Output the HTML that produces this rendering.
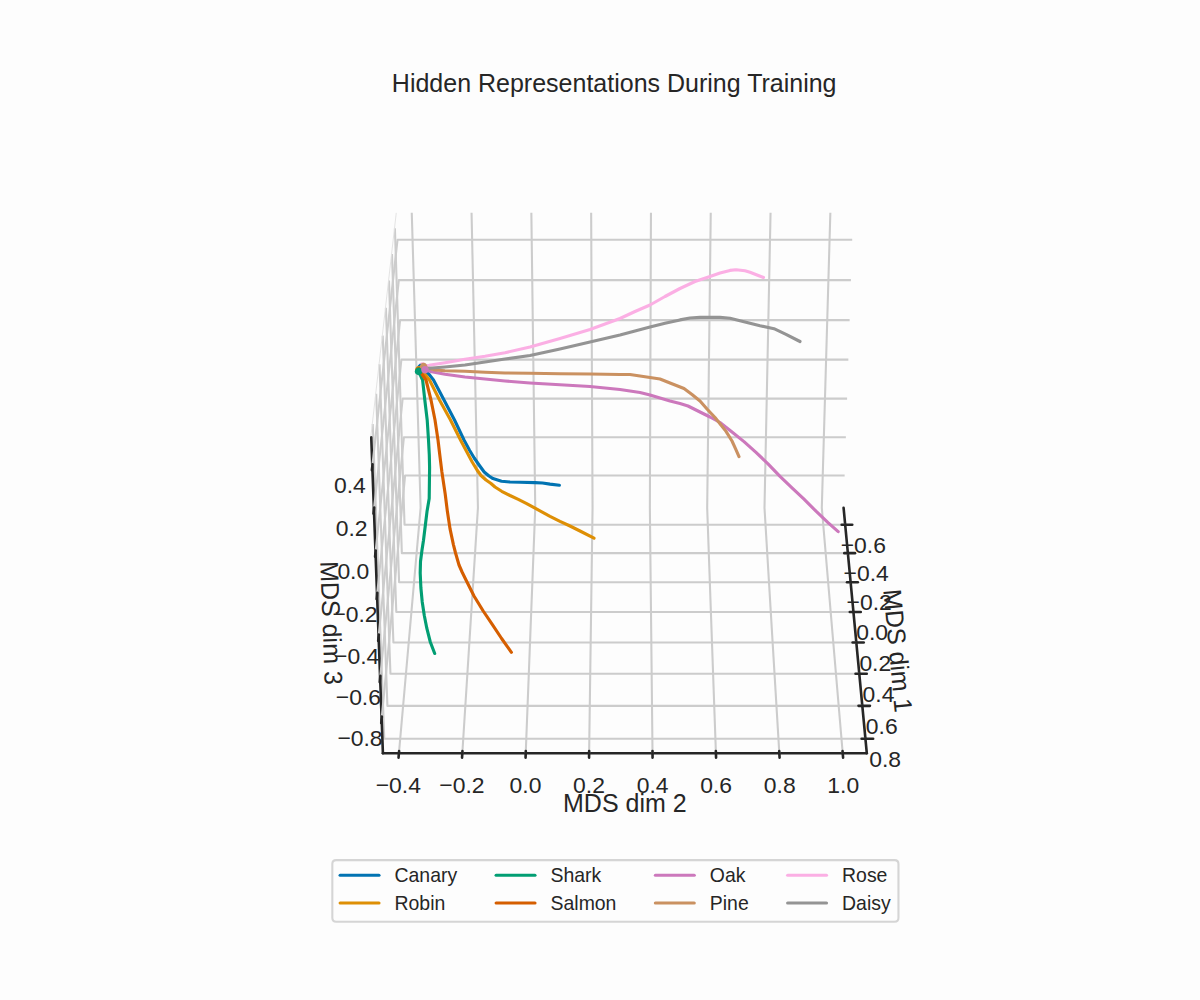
<!DOCTYPE html>
<html><head><meta charset="utf-8"><title>Hidden Representations During Training</title>
<style>html,body{margin:0;padding:0;overflow:hidden;width:1200px;height:1000px;background:#fdfdfd;font-family:"Liberation Sans",sans-serif;}svg{display:block}</style>
</head><body>
<svg width="1200" height="1000" viewBox="0 0 864 720" version="1.1">
 <defs>
  <style type="text/css">*{stroke-linejoin: round; stroke-linecap: butt}</style>
 </defs>
 <g id="figure_1">
  <g id="patch_1">
   <path d="M 0 720 L 864 720 L 864 0 L 0 0 z
" style="fill: #fdfdfd"/>
  </g>
  <g id="patch_2">
   <path d="M 180 612 L 705.6 612 L 705.6 86.4 L 180 86.4 z
" style="fill: #fdfdfd"/>
  </g>
  <g id="pane3d_1">
   <g id="patch_3">
    <path d="M 292.423789 365.643395 L 607.381617 365.643395 L 614.212281 153.220307 L 285.593125 153.220307 " style="fill: none; opacity: 0"/>
   </g>
  </g>
  <g id="pane3d_2">
   <g id="patch_4">
    <path d="M 292.423789 365.643395 L 275.699164 542.347584 L 267.30191 314.795 L 285.593125 153.220307 " style="fill: none; opacity: 0"/>
   </g>
  </g>
  <g id="pane3d_3">
   <g id="patch_5">
    <path d="M 292.423789 365.643395 L 275.699164 542.347584 L 624.106241 542.347584 L 607.381617 365.643395 " style="fill: none; opacity: 0"/>
   </g>
  </g>
  
  
  
  <g id="axis3d_1">
   <g id="line2d_1">
    <path d="M 607.381617 365.643395 L 624.106241 542.347584 " style="fill: none; stroke: #262626; stroke-width: 1.875; stroke-linecap: round"/>
   </g>
<g id="grid3d_1">
   <g id="Line3DCollection_1">
    <path d="M 608.538737 377.868958 L 291.266669 377.868958 L 284.333046 164.351163 " style="fill: none; stroke: #cccccc; stroke-width: 1.5"/>
    <path d="M 610.469687 398.270429 L 289.335719 398.270429 L 282.228492 182.941649 " style="fill: none; stroke: #cccccc; stroke-width: 1.5"/>
    <path d="M 612.448224 419.174682 L 287.357182 419.174682 L 280.069748 202.010827 " style="fill: none; stroke: #cccccc; stroke-width: 1.5"/>
    <path d="M 614.476129 440.600534 L 285.329277 440.600534 L 277.854693 221.577426 " style="fill: none; stroke: #cccccc; stroke-width: 1.5"/>
    <path d="M 616.555273 462.567755 L 283.250132 462.567755 L 275.581094 241.661167 " style="fill: none; stroke: #cccccc; stroke-width: 1.5"/>
    <path d="M 618.687624 485.097126 L 281.117782 485.097126 L 273.2466 262.282826 " style="fill: none; stroke: #cccccc; stroke-width: 1.5"/>
    <path d="M 620.875249 508.210503 L 278.930156 508.210503 L 270.848731 283.464308 " style="fill: none; stroke: #cccccc; stroke-width: 1.5"/>
    <path d="M 623.120327 531.930895 L 276.685078 531.930895 L 268.38487 305.228723 " style="fill: none; stroke: #cccccc; stroke-width: 1.5"/>
   </g>
  </g>
   <g id="xtick_1">
    <g id="line2d_2">
     <path d="M 449.902703 342.097297 " clip-path="url(#pe4613dec09)" style="fill: none; stroke: #cccccc; stroke-width: 1.5; stroke-linecap: round"/>
    </g>
    <g id="line2d_3">
     <path d="M 606.00056 377.868958 L 613.61509 377.868958 " style="fill: none; stroke: #262626; stroke-width: 1.875; stroke-linecap: round"/>
    </g>
    <g id="text_1">
     <text style="font-size: 16.5px; font-family: 'Liberation Sans', sans-serif; text-anchor: middle; fill: #262626" x="621.565067" y="397.9013">−0.6</text>
    </g>
   </g>
   <g id="xtick_2">
    <g id="line2d_4">
     <path d="M 449.902703 342.097297 " clip-path="url(#pe4613dec09)" style="fill: none; stroke: #cccccc; stroke-width: 1.5; stroke-linecap: round"/>
    </g>
    <g id="line2d_5">
     <path d="M 607.900615 398.270429 L 615.60783 398.270429 " style="fill: none; stroke: #262626; stroke-width: 1.875; stroke-linecap: round"/>
    </g>
    <g id="text_2">
     <text style="font-size: 16.5px; font-family: 'Liberation Sans', sans-serif; text-anchor: middle; fill: #262626" x="623.650862" y="418.3707">−0.4</text>
    </g>
   </g>
   <g id="xtick_3">
    <g id="line2d_6">
     <path d="M 449.902703 342.097297 " clip-path="url(#pe4613dec09)" style="fill: none; stroke: #cccccc; stroke-width: 1.5; stroke-linecap: round"/>
    </g>
    <g id="line2d_7">
     <path d="M 609.847495 419.174682 L 617.64968 419.174682 " style="fill: none; stroke: #262626; stroke-width: 1.875; stroke-linecap: round"/>
    </g>
    <g id="text_3">
     <text style="font-size: 16.5px; font-family: 'Liberation Sans', sans-serif; text-anchor: middle; fill: #262626" x="625.787968" y="439.3437">−0.2</text>
    </g>
   </g>
   <g id="xtick_4">
    <g id="line2d_8">
     <path d="M 449.902703 342.097297 " clip-path="url(#pe4613dec09)" style="fill: none; stroke: #cccccc; stroke-width: 1.5; stroke-linecap: round"/>
    </g>
    <g id="line2d_9">
     <path d="M 611.842954 440.600534 L 619.742479 440.600534 " style="fill: none; stroke: #262626; stroke-width: 1.875; stroke-linecap: round"/>
    </g>
    <g id="text_4">
     <text style="font-size: 16.5px; font-family: 'Liberation Sans', sans-serif; text-anchor: middle; fill: #262626" x="627.978301" y="460.8391">0.0</text>
    </g>
   </g>
   <g id="xtick_5">
    <g id="line2d_10">
     <path d="M 449.902703 342.097297 " clip-path="url(#pe4613dec09)" style="fill: none; stroke: #cccccc; stroke-width: 1.5; stroke-linecap: round"/>
    </g>
    <g id="line2d_11">
     <path d="M 613.888832 462.567755 L 621.888156 462.567755 " style="fill: none; stroke: #262626; stroke-width: 1.875; stroke-linecap: round"/>
    </g>
    <g id="text_5">
     <text style="font-size: 16.5px; font-family: 'Liberation Sans', sans-serif; text-anchor: middle; fill: #262626" x="630.223875" y="482.8766">0.2</text>
    </g>
   </g>
   <g id="xtick_6">
    <g id="line2d_12">
     <path d="M 449.902703 342.097297 " clip-path="url(#pe4613dec09)" style="fill: none; stroke: #cccccc; stroke-width: 1.5; stroke-linecap: round"/>
    </g>
    <g id="line2d_13">
     <path d="M 615.987065 485.097126 L 624.088741 485.097126 " style="fill: none; stroke: #262626; stroke-width: 1.875; stroke-linecap: round"/>
    </g>
    <g id="text_6">
     <text style="font-size: 16.5px; font-family: 'Liberation Sans', sans-serif; text-anchor: middle; fill: #262626" x="632.526808" y="505.4769">0.4</text>
    </g>
   </g>
   <g id="xtick_7">
    <g id="line2d_14">
     <path d="M 449.902703 342.097297 " clip-path="url(#pe4613dec09)" style="fill: none; stroke: #cccccc; stroke-width: 1.5; stroke-linecap: round"/>
    </g>
    <g id="line2d_15">
     <path d="M 618.139688 508.210503 L 626.346371 508.210503 " style="fill: none; stroke: #262626; stroke-width: 1.875; stroke-linecap: round"/>
    </g>
    <g id="text_7">
     <text style="font-size: 16.5px; font-family: 'Liberation Sans', sans-serif; text-anchor: middle; fill: #262626" x="634.889324" y="528.6621">0.6</text>
    </g>
   </g>
   <g id="xtick_8">
    <g id="line2d_16">
     <path d="M 449.902703 342.097297 " clip-path="url(#pe4613dec09)" style="fill: none; stroke: #cccccc; stroke-width: 1.5; stroke-linecap: round"/>
    </g>
    <g id="line2d_17">
     <path d="M 620.348845 531.930895 L 628.663291 531.930895 " style="fill: none; stroke: #262626; stroke-width: 1.875; stroke-linecap: round"/>
    </g>
    <g id="text_8">
     <text style="font-size: 16.5px; font-family: 'Liberation Sans', sans-serif; text-anchor: middle; fill: #262626" x="637.313766" y="552.4549">0.8</text>
    </g>
   </g>
   <g id="text_9">
    <text style="font-size: 18px; font-family: 'Liberation Sans', sans-serif; text-anchor: middle; fill: #262626" x="640.124835" y="469.098648" transform="translate(640.1248 469.0986) rotate(-275.406801) scale(1 1.020) translate(-640.1248 -469.0986)">MDS dim 1</text>
   </g>
  </g>
  <g id="axis3d_2">
   <g id="line2d_18">
    <path d="M 275.699164 542.347584 L 624.106241 542.347584 " style="fill: none; stroke: #262626; stroke-width: 1.875; stroke-linecap: round"/>
   </g>
<g id="grid3d_2">
   <g id="Line3DCollection_2">
    <path d="M 296.464574 153.220307 L 302.843291 365.643395 L 287.225242 542.347584 " style="fill: none; stroke: #cccccc; stroke-width: 1.5"/>
    <path d="M 339.519819 153.220307 L 344.108647 365.643395 L 332.873073 542.347584 " style="fill: none; stroke: #cccccc; stroke-width: 1.5"/>
    <path d="M 382.575064 153.220307 L 385.374003 365.643395 L 378.520905 542.347584 " style="fill: none; stroke: #cccccc; stroke-width: 1.5"/>
    <path d="M 425.630308 153.220307 L 426.639358 365.643395 L 424.168737 542.347584 " style="fill: none; stroke: #cccccc; stroke-width: 1.5"/>
    <path d="M 468.685553 153.220307 L 467.904714 365.643395 L 469.816569 542.347584 " style="fill: none; stroke: #cccccc; stroke-width: 1.5"/>
    <path d="M 511.740798 153.220307 L 509.17007 365.643395 L 515.464401 542.347584 " style="fill: none; stroke: #cccccc; stroke-width: 1.5"/>
    <path d="M 554.796043 153.220307 L 550.435426 365.643395 L 561.112233 542.347584 " style="fill: none; stroke: #cccccc; stroke-width: 1.5"/>
    <path d="M 597.851288 153.220307 L 591.700781 365.643395 L 606.760065 542.347584 " style="fill: none; stroke: #cccccc; stroke-width: 1.5"/>
   </g>
  </g>
   <g id="xtick_9">
    <g id="line2d_19">
     <path d="M 449.902703 342.097297 " clip-path="url(#pe4613dec09)" style="fill: none; stroke: #cccccc; stroke-width: 1.5; stroke-linecap: round"/>
    </g>
    <g id="line2d_20">
     <path d="M 287.363338 540.785147 L 286.948343 545.480437 " style="fill: none; stroke: #262626; stroke-width: 1.875; stroke-linecap: round"/>
    </g>
    <g id="text_10">
     <text style="font-size: 16.5px; font-family: 'Liberation Sans', sans-serif; text-anchor: middle; fill: #262626" x="286.81269" y="571.1761">−0.4</text>
    </g>
   </g>
   <g id="xtick_10">
    <g id="line2d_21">
     <path d="M 449.902703 342.097297 " clip-path="url(#pe4613dec09)" style="fill: none; stroke: #cccccc; stroke-width: 1.5; stroke-linecap: round"/>
    </g>
    <g id="line2d_22">
     <path d="M 332.97242 540.785147 L 332.673874 545.480437 " style="fill: none; stroke: #262626; stroke-width: 1.875; stroke-linecap: round"/>
    </g>
    <g id="text_11">
     <text style="font-size: 16.5px; font-family: 'Liberation Sans', sans-serif; text-anchor: middle; fill: #262626" x="332.576285" y="571.1761">−0.2</text>
    </g>
   </g>
   <g id="xtick_11">
    <g id="line2d_23">
     <path d="M 449.902703 342.097297 " clip-path="url(#pe4613dec09)" style="fill: none; stroke: #cccccc; stroke-width: 1.5; stroke-linecap: round"/>
    </g>
    <g id="line2d_24">
     <path d="M 378.581501 540.785147 L 378.399404 545.480437 " style="fill: none; stroke: #262626; stroke-width: 1.875; stroke-linecap: round"/>
    </g>
    <g id="text_12">
     <text style="font-size: 16.5px; font-family: 'Liberation Sans', sans-serif; text-anchor: middle; fill: #262626" x="378.33988" y="571.1761">0.0</text>
    </g>
   </g>
   <g id="xtick_12">
    <g id="line2d_25">
     <path d="M 449.902703 342.097297 " clip-path="url(#pe4613dec09)" style="fill: none; stroke: #cccccc; stroke-width: 1.5; stroke-linecap: round"/>
    </g>
    <g id="line2d_26">
     <path d="M 424.190583 540.785147 L 424.124935 545.480437 " style="fill: none; stroke: #262626; stroke-width: 1.875; stroke-linecap: round"/>
    </g>
    <g id="text_13">
     <text style="font-size: 16.5px; font-family: 'Liberation Sans', sans-serif; text-anchor: middle; fill: #262626" x="424.103476" y="571.1761">0.2</text>
    </g>
   </g>
   <g id="xtick_13">
    <g id="line2d_27">
     <path d="M 449.902703 342.097297 " clip-path="url(#pe4613dec09)" style="fill: none; stroke: #cccccc; stroke-width: 1.5; stroke-linecap: round"/>
    </g>
    <g id="line2d_28">
     <path d="M 469.799665 540.785147 L 469.850465 545.480437 " style="fill: none; stroke: #262626; stroke-width: 1.875; stroke-linecap: round"/>
    </g>
    <g id="text_14">
     <text style="font-size: 16.5px; font-family: 'Liberation Sans', sans-serif; text-anchor: middle; fill: #262626" x="469.867071" y="571.1761">0.4</text>
    </g>
   </g>
   <g id="xtick_14">
    <g id="line2d_29">
     <path d="M 449.902703 342.097297 " clip-path="url(#pe4613dec09)" style="fill: none; stroke: #cccccc; stroke-width: 1.5; stroke-linecap: round"/>
    </g>
    <g id="line2d_30">
     <path d="M 515.408746 540.785147 L 515.575996 545.480437 " style="fill: none; stroke: #262626; stroke-width: 1.875; stroke-linecap: round"/>
    </g>
    <g id="text_15">
     <text style="font-size: 16.5px; font-family: 'Liberation Sans', sans-serif; text-anchor: middle; fill: #262626" x="515.630667" y="571.1761">0.6</text>
    </g>
   </g>
   <g id="xtick_15">
    <g id="line2d_31">
     <path d="M 449.902703 342.097297 " clip-path="url(#pe4613dec09)" style="fill: none; stroke: #cccccc; stroke-width: 1.5; stroke-linecap: round"/>
    </g>
    <g id="line2d_32">
     <path d="M 561.017828 540.785147 L 561.301526 545.480437 " style="fill: none; stroke: #262626; stroke-width: 1.875; stroke-linecap: round"/>
    </g>
    <g id="text_16">
     <text style="font-size: 16.5px; font-family: 'Liberation Sans', sans-serif; text-anchor: middle; fill: #262626" x="561.394262" y="571.1761">0.8</text>
    </g>
   </g>
   <g id="xtick_16">
    <g id="line2d_33">
     <path d="M 449.902703 342.097297 " clip-path="url(#pe4613dec09)" style="fill: none; stroke: #cccccc; stroke-width: 1.5; stroke-linecap: round"/>
    </g>
    <g id="line2d_34">
     <path d="M 606.62691 540.785147 L 607.027057 545.480437 " style="fill: none; stroke: #262626; stroke-width: 1.875; stroke-linecap: round"/>
    </g>
    <g id="text_17">
     <text style="font-size: 16.5px; font-family: 'Liberation Sans', sans-serif; text-anchor: middle; fill: #262626" x="607.157857" y="571.1761">1.0</text>
    </g>
   </g>
   <g id="text_18">
    <text style="font-size: 18px; font-family: 'Liberation Sans', sans-serif; text-anchor: middle; fill: #262626" x="449.902703" y="584.887201" transform="translate(449.9027 584.8872) rotate(-0.000000) scale(1 1.020) translate(-449.9027 -584.8872)">MDS dim 2</text>
   </g>
  </g>
  <g id="axis3d_3">
   <g id="line2d_35">
    <path d="M 275.699164 542.347584 L 267.30191 314.795 " style="fill: none; stroke: #262626; stroke-width: 1.875; stroke-linecap: round"/>
   </g>
<g id="grid3d_3">
   <g id="Line3DCollection_3">
    <path d="M 274.781558 517.481894 L 291.674296 342.335336 L 608.131109 342.335336 " style="fill: none; stroke: #cccccc; stroke-width: 1.5"/>
    <path d="M 273.697908 488.116631 L 290.790154 314.839891 L 609.015251 314.839891 " style="fill: none; stroke: #cccccc; stroke-width: 1.5"/>
    <path d="M 272.600762 458.385679 L 289.896076 287.035443 L 609.909329 287.035443 " style="fill: none; stroke: #cccccc; stroke-width: 1.5"/>
    <path d="M 271.489868 428.282167 L 288.991893 258.916754 L 610.813512 258.916754 " style="fill: none; stroke: #cccccc; stroke-width: 1.5"/>
    <path d="M 270.364965 397.799045 L 288.077433 230.478467 L 611.727972 230.478467 " style="fill: none; stroke: #cccccc; stroke-width: 1.5"/>
    <path d="M 269.225787 366.92909 L 287.15252 201.715101 L 612.652885 201.715101 " style="fill: none; stroke: #cccccc; stroke-width: 1.5"/>
    <path d="M 268.072061 335.664889 L 286.216974 172.621051 L 613.588432 172.621051 " style="fill: none; stroke: #cccccc; stroke-width: 1.5"/>
   </g>
  </g>
   <g id="xtick_17">
    <g id="line2d_36">
     <path d="M 449.902703 342.097297 " style="fill: none; stroke: #cccccc; stroke-width: 1.5; stroke-linecap: round"/>
    </g>
    <g id="line2d_37">
     <path d="M 274.931001 515.932453 L 274.481907 520.588729 " style="fill: none; stroke: #262626; stroke-width: 1.875; stroke-linecap: round"/>
    </g>
    <g id="text_19">
     <text style="font-size: 16.5px; font-family: 'Liberation Sans', sans-serif; text-anchor: middle; fill: #262626" x="259.212946" y="537.1152">−0.8</text>
    </g>
   </g>
   <g id="xtick_18">
    <g id="line2d_38">
     <path d="M 449.902703 342.097297 " style="fill: none; stroke: #cccccc; stroke-width: 1.5; stroke-linecap: round"/>
    </g>
    <g id="line2d_39">
     <path d="M 273.849204 486.582824 L 273.394533 491.192165 " style="fill: none; stroke: #262626; stroke-width: 1.875; stroke-linecap: round"/>
    </g>
    <g id="text_20">
     <text style="font-size: 16.5px; font-family: 'Liberation Sans', sans-serif; text-anchor: middle; fill: #262626" x="258.027608" y="507.6677">−0.6</text>
    </g>
   </g>
   <g id="xtick_19">
    <g id="line2d_40">
     <path d="M 449.902703 342.097297 " style="fill: none; stroke: #cccccc; stroke-width: 1.5; stroke-linecap: round"/>
    </g>
    <g id="line2d_41">
     <path d="M 272.753948 456.868018 L 272.293594 461.42889 " style="fill: none; stroke: #262626; stroke-width: 1.875; stroke-linecap: round"/>
    </g>
    <g id="text_21">
     <text style="font-size: 16.5px; font-family: 'Liberation Sans', sans-serif; text-anchor: middle; fill: #262626" x="256.827441" y="477.8518">−0.4</text>
    </g>
   </g>
   <g id="xtick_20">
    <g id="line2d_42">
     <path d="M 449.902703 342.097297 " style="fill: none; stroke: #cccccc; stroke-width: 1.5; stroke-linecap: round"/>
    </g>
    <g id="line2d_43">
     <path d="M 271.644978 426.781177 L 271.178835 431.291997 " style="fill: none; stroke: #262626; stroke-width: 1.875; stroke-linecap: round"/>
    </g>
    <g id="text_22">
     <text style="font-size: 16.5px; font-family: 'Liberation Sans', sans-serif; text-anchor: middle; fill: #262626" x="255.612165" y="447.6605">−0.2</text>
    </g>
   </g>
   <g id="xtick_21">
    <g id="line2d_44">
     <path d="M 449.902703 342.097297 " style="fill: none; stroke: #cccccc; stroke-width: 1.5; stroke-linecap: round"/>
    </g>
    <g id="line2d_45">
     <path d="M 270.522037 396.315268 L 270.049995 400.774409 " style="fill: none; stroke: #262626; stroke-width: 1.875; stroke-linecap: round"/>
    </g>
    <g id="text_23">
     <text style="font-size: 16.5px; font-family: 'Liberation Sans', sans-serif; text-anchor: middle; fill: #262626" x="254.381494" y="417.0868">0.0</text>
    </g>
   </g>
   <g id="xtick_22">
    <g id="line2d_46">
     <path d="M 449.902703 342.097297 " style="fill: none; stroke: #cccccc; stroke-width: 1.5; stroke-linecap: round"/>
    </g>
    <g id="line2d_47">
     <path d="M 269.384858 365.463085 L 268.906804 369.868864 " style="fill: none; stroke: #262626; stroke-width: 1.875; stroke-linecap: round"/>
    </g>
    <g id="text_24">
     <text style="font-size: 16.5px; font-family: 'Liberation Sans', sans-serif; text-anchor: middle; fill: #262626" x="253.135133" y="386.1232">0.2</text>
    </g>
   </g>
   <g id="xtick_23">
    <g id="line2d_48">
     <path d="M 449.902703 342.097297 " style="fill: none; stroke: #cccccc; stroke-width: 1.5; stroke-linecap: round"/>
    </g>
    <g id="line2d_49">
     <path d="M 268.233169 334.217232 L 267.748987 338.567919 " style="fill: none; stroke: #262626; stroke-width: 1.875; stroke-linecap: round"/>
    </g>
    <g id="text_25">
     <text style="font-size: 16.5px; font-family: 'Liberation Sans', sans-serif; text-anchor: middle; fill: #262626" x="251.87278" y="354.7624">0.4</text>
    </g>
   </g>
   <g id="text_26">
    <text style="font-size: 18px; font-family: 'Liberation Sans', sans-serif; text-anchor: middle; fill: #262626" x="232.266688" y="448.761197" transform="translate(232.2667 448.7612) rotate(-272.113397) scale(1 1.020) translate(-232.2667 -448.7612)">MDS dim 3</text>
   </g>
  </g>
  <g id="axes_1">
   <g id="line2d_50">
    <path d="M 380.519479 301.335179 L 380.519479 301.335179 " clip-path="url(#pe4613dec09)" style="fill: none; stroke: #0173b2; stroke-opacity: 0; stroke-width: 2.25; stroke-linecap: round"/>
   </g>
   <g id="line2d_51">
    <path d="M 380.519479 301.335179 L 380.519479 301.335179 " clip-path="url(#pe4613dec09)" style="fill: none; stroke: #de8f05; stroke-opacity: 0; stroke-width: 2.25; stroke-linecap: round"/>
   </g>
   <g id="line2d_52">
    <path d="M 380.519479 301.335179 L 380.519479 301.335179 " clip-path="url(#pe4613dec09)" style="fill: none; stroke: #029e73; stroke-opacity: 0; stroke-width: 2.25; stroke-linecap: round"/>
   </g>
   <g id="line2d_53">
    <path d="M 380.519479 301.335179 L 380.519479 301.335179 " clip-path="url(#pe4613dec09)" style="fill: none; stroke: #d55e00; stroke-opacity: 0; stroke-width: 2.25; stroke-linecap: round"/>
   </g>
   <g id="line2d_54">
    <path d="M 380.519479 301.335179 L 380.519479 301.335179 " clip-path="url(#pe4613dec09)" style="fill: none; stroke: #cc78bc; stroke-opacity: 0; stroke-width: 2.25; stroke-linecap: round"/>
   </g>
   <g id="line2d_55">
    <path d="M 380.519479 301.335179 L 380.519479 301.335179 " clip-path="url(#pe4613dec09)" style="fill: none; stroke: #ca9161; stroke-opacity: 0; stroke-width: 2.25; stroke-linecap: round"/>
   </g>
   <g id="line2d_56">
    <path d="M 380.519479 301.335179 L 380.519479 301.335179 " clip-path="url(#pe4613dec09)" style="fill: none; stroke: #fbafe4; stroke-opacity: 0; stroke-width: 2.25; stroke-linecap: round"/>
   </g>
   <g id="line2d_57">
    <path d="M 380.519479 301.335179 L 380.519479 301.335179 " clip-path="url(#pe4613dec09)" style="fill: none; stroke: #949494; stroke-opacity: 0; stroke-width: 2.25; stroke-linecap: round"/>
   </g>
   <g id="text_27">
    <text style="font-size: 18px; font-family: 'Liberation Sans', sans-serif; text-anchor: middle; fill: #262626" x="442.2240" y="66.4" transform="translate(442.8000 66.4000) rotate(-0.000000) scale(1 1.020) translate(-442.8000 -66.4000)">Hidden Representations During Training</text>
   </g>
  </g>
  <g id="axes_2">
   <g id="line2d_58">
    <path d="M 285.3 153.288 L 267.048 314.064 " clip-path="url(#p86b80bda49)" style="fill: none; stroke: #e2e2e2; stroke-width: 0.7"/>
   </g>
   <g id="line2d_59">
    <path d="M 303.12 264.672 L 308.88 269.496 L 312.12 273.6 L 319.68 288 L 327.24 302.4 L 334.08 316.8 L 337.968 324 L 341.424 329.76 L 345.456 335.52 L 348.624 339.84 L 352.08 342.72 L 354.96 344.592 L 361.08 346.464 L 367.2 347.04 L 374.4 347.256 L 385.2 347.472 L 390.6 347.76 L 396 348.552 L 402.768 349.38 " clip-path="url(#p86b80bda49)" style="fill: none; stroke: #0173b2; stroke-width: 2.25; stroke-linecap: round"/>
   </g>
   <g id="line2d_60">
    <path d="M 301.608 266.184 L 306.36 270 L 309.24 273.6 L 316.44 288 L 324.36 302.4 L 331.56 316.8 L 335.376 324 L 339.984 332.64 L 343.44 338.4 L 346.32 342.36 L 349.92 345.6 L 353.52 348.12 L 356.4 350.64 L 361.224 353.736 L 367.2 356.76 L 373.176 359.568 L 379.224 362.592 L 385.2 365.904 L 392.4 369.792 L 396 371.736 L 403.2 375.336 L 410.4 378.72 L 417.6 382.32 L 427.68 387.504 " clip-path="url(#p86b80bda49)" style="fill: none; stroke: #de8f05; stroke-width: 2.25; stroke-linecap: round"/>
   </g>
   <g id="line2d_61">
    <path d="M 301.392 267.408 L 304.272 273.6 L 305.856 288 L 307.584 302.4 L 308.52 316.8 L 309.096 327.6 L 309.312 336.672 L 309.168 347.76 L 309.024 358.848 L 307.44 368.352 L 306.288 377.856 L 304.92 388.944 L 303.84 396 L 302.76 404.28 L 302.544 412.56 L 303.048 423.36 L 303.984 433.224 L 305.496 443.16 L 307.296 452.304 L 309.816 462.24 L 312.984 470.52 " clip-path="url(#p86b80bda49)" style="fill: none; stroke: #029e73; stroke-width: 2.25; stroke-linecap: round"/>
   </g>
   <g id="line2d_62">
    <path d="M 302.04 266.76 L 306.72 273.6 L 310.32 288 L 313.2 302.4 L 315.36 316.8 L 316.656 327.6 L 318.168 339.84 L 320.544 355.68 L 322.128 368.352 L 324.072 381.024 L 326.448 392.112 L 327.888 397.8 L 330.48 406.8 L 332.856 412.2 L 335.52 417.6 L 341.28 429.12 L 347.904 439.92 L 354.528 449.784 L 361.152 459.72 L 368.208 469.656 " clip-path="url(#p86b80bda49)" style="fill: none; stroke: #d55e00; stroke-width: 2.25; stroke-linecap: round"/>
   </g>
   <g id="line2d_63">
    <path d="M 306 266.184 L 310.824 267.624 L 320.4 269.496 L 334.8 271.44 L 349.2 272.88 L 363.6 274.32 L 381.6 275.76 L 403.2 277.056 L 424.8 278.28 L 446.4 280.44 L 453.6 281.52 L 460.8 282.6 L 468 284.4 L 475.2 286.56 L 482.4 288.72 L 489.6 290.52 L 495.36 292.32 L 504 296.64 L 511.2 300.24 L 518.4 304.2 L 527.04 311.04 L 535.68 317.952 L 544.32 325.728 L 552.96 333.936 L 561.6 343.008 L 570.24 351.216 L 578.88 359.424 L 587.52 368.064 L 596.16 376.272 L 603.504 382.752 " clip-path="url(#p86b80bda49)" style="fill: none; stroke: #cc78bc; stroke-width: 2.25; stroke-linecap: round"/>
   </g>
   <g id="line2d_64">
    <path d="M 304.992 263.952 L 313.2 266.4 L 320.4 266.904 L 334.8 267.336 L 349.2 268.056 L 363.6 268.56 L 381.6 268.776 L 403.2 269.064 L 424.8 269.28 L 446.4 269.64 L 453.6 269.64 L 460.8 270.72 L 468 271.8 L 475.2 272.88 L 482.4 275.76 L 492.48 279.72 L 498.24 284.04 L 504 288.72 L 509.04 294.48 L 514.8 300.6 L 519.12 306 L 522.72 310.608 L 527.04 317.52 L 529.632 323.136 L 532.08 328.752 " clip-path="url(#p86b80bda49)" style="fill: none; stroke: #ca9161; stroke-width: 2.25; stroke-linecap: round"/>
   </g>
   <g id="line2d_65">
    <path d="M 304.2 263.52 L 308.88 263.016 L 320.4 261.144 L 334.8 258.696 L 349.2 256.536 L 363.6 253.944 L 381.6 249.84 L 403.2 243.72 L 424.8 237.24 L 446.4 229.32 L 457.2 224.28 L 468 219.6 L 478.8 213.48 L 489.6 207.72 L 500.4 202.68 L 511.2 199.08 L 518.4 196.56 L 525.6 194.688 L 529.92 194.256 L 536.4 194.976 L 540 195.984 L 545.04 198 L 549.72 199.8 " clip-path="url(#p86b80bda49)" style="fill: none; stroke: #fbafe4; stroke-width: 2.25; stroke-linecap: round"/>
   </g>
   <g id="line2d_66">
    <path d="M 304.56 264.96 L 308.88 265.176 L 320.4 264.24 L 334.8 262.8 L 349.2 260.64 L 363.6 258.48 L 381.6 255.96 L 403.2 251.28 L 424.8 246.24 L 446.4 241.2 L 457.2 238.32 L 468 235.44 L 478.8 232.776 L 489.6 230.328 L 496.8 228.96 L 504 228.528 L 511.2 228.384 L 518.4 228.528 L 525.6 229.176 L 532.8 230.904 L 540 232.776 L 547.2 234.576 L 557.28 236.664 L 565.92 240.696 L 576 245.88 " clip-path="url(#p86b80bda49)" style="fill: none; stroke: #949494; stroke-width: 2.25; stroke-linecap: round"/>
   </g>
   <g id="PathCollection_1">
    <defs>
     <path id="m7750dbd0d4" d="M 0 2.738613 C 0.726289 2.738613 1.422928 2.450055 1.936492 1.936492 C 2.450055 1.422928 2.738613 0.726289 2.738613 0 C 2.738613 -0.726289 2.450055 -1.422928 1.936492 -1.936492 C 1.422928 -2.450055 0.726289 -2.738613 0 -2.738613 C -0.726289 -2.738613 -1.422928 -2.450055 -1.936492 -1.936492 C -2.450055 -1.422928 -2.738613 -0.726289 -2.738613 0 C -2.738613 0.726289 -2.450055 1.422928 -1.936492 1.936492 C -1.422928 2.450055 -0.726289 2.738613 0 2.738613 z
"/>
    </defs>
    <g clip-path="url(#p86b80bda49)">
     <use href="#m7750dbd0d4" x="304.2" y="263.52" style="fill: #fbafe4"/>
    </g>
   </g>
   <g id="PathCollection_2">
    <defs>
     <path id="m5fcc246b37" d="M 0 2.738613 C 0.726289 2.738613 1.422928 2.450055 1.936492 1.936492 C 2.450055 1.422928 2.738613 0.726289 2.738613 0 C 2.738613 -0.726289 2.450055 -1.422928 1.936492 -1.936492 C 1.422928 -2.450055 0.726289 -2.738613 0 -2.738613 C -0.726289 -2.738613 -1.422928 -2.450055 -1.936492 -1.936492 C -2.450055 -1.422928 -2.738613 -0.726289 -2.738613 0 C -2.738613 0.726289 -2.450055 1.422928 -1.936492 1.936492 C -1.422928 2.450055 -0.726289 2.738613 0 2.738613 z
"/>
    </defs>
    <g clip-path="url(#p86b80bda49)">
     <use href="#m5fcc246b37" x="304.56" y="264.96" style="fill: #949494"/>
    </g>
   </g>
   <g id="PathCollection_3">
    <defs>
     <path id="mcd2621daca" d="M 0 2.738613 C 0.726289 2.738613 1.422928 2.450055 1.936492 1.936492 C 2.450055 1.422928 2.738613 0.726289 2.738613 0 C 2.738613 -0.726289 2.450055 -1.422928 1.936492 -1.936492 C 1.422928 -2.450055 0.726289 -2.738613 0 -2.738613 C -0.726289 -2.738613 -1.422928 -2.450055 -1.936492 -1.936492 C -2.450055 -1.422928 -2.738613 -0.726289 -2.738613 0 C -2.738613 0.726289 -2.450055 1.422928 -1.936492 1.936492 C -1.422928 2.450055 -0.726289 2.738613 0 2.738613 z
"/>
    </defs>
    <g clip-path="url(#p86b80bda49)">
     <use href="#mcd2621daca" x="303.12" y="264.672" style="fill: #0173b2"/>
    </g>
   </g>
   <g id="PathCollection_4">
    <defs>
     <path id="ma51aea3d4e" d="M 0 2.738613 C 0.726289 2.738613 1.422928 2.450055 1.936492 1.936492 C 2.450055 1.422928 2.738613 0.726289 2.738613 0 C 2.738613 -0.726289 2.450055 -1.422928 1.936492 -1.936492 C 1.422928 -2.450055 0.726289 -2.738613 0 -2.738613 C -0.726289 -2.738613 -1.422928 -2.450055 -1.936492 -1.936492 C -2.450055 -1.422928 -2.738613 -0.726289 -2.738613 0 C -2.738613 0.726289 -2.450055 1.422928 -1.936492 1.936492 C -1.422928 2.450055 -0.726289 2.738613 0 2.738613 z
"/>
    </defs>
    <g clip-path="url(#p86b80bda49)">
     <use href="#ma51aea3d4e" x="301.608" y="266.184" style="fill: #de8f05"/>
    </g>
   </g>
   <g id="PathCollection_5">
    <defs>
     <path id="mda98df1fb2" d="M 0 2.738613 C 0.726289 2.738613 1.422928 2.450055 1.936492 1.936492 C 2.450055 1.422928 2.738613 0.726289 2.738613 0 C 2.738613 -0.726289 2.450055 -1.422928 1.936492 -1.936492 C 1.422928 -2.450055 0.726289 -2.738613 0 -2.738613 C -0.726289 -2.738613 -1.422928 -2.450055 -1.936492 -1.936492 C -2.450055 -1.422928 -2.738613 -0.726289 -2.738613 0 C -2.738613 0.726289 -2.450055 1.422928 -1.936492 1.936492 C -1.422928 2.450055 -0.726289 2.738613 0 2.738613 z
"/>
    </defs>
    <g clip-path="url(#p86b80bda49)">
     <use href="#mda98df1fb2" x="302.04" y="266.76" style="fill: #d55e00"/>
    </g>
   </g>
   <g id="PathCollection_6">
    <defs>
     <path id="m165a297366" d="M 0 2.738613 C 0.726289 2.738613 1.422928 2.450055 1.936492 1.936492 C 2.450055 1.422928 2.738613 0.726289 2.738613 0 C 2.738613 -0.726289 2.450055 -1.422928 1.936492 -1.936492 C 1.422928 -2.450055 0.726289 -2.738613 0 -2.738613 C -0.726289 -2.738613 -1.422928 -2.450055 -1.936492 -1.936492 C -2.450055 -1.422928 -2.738613 -0.726289 -2.738613 0 C -2.738613 0.726289 -2.450055 1.422928 -1.936492 1.936492 C -1.422928 2.450055 -0.726289 2.738613 0 2.738613 z
"/>
    </defs>
    <g clip-path="url(#p86b80bda49)">
     <use href="#m165a297366" x="304.992" y="263.952" style="fill: #ca9161"/>
    </g>
   </g>
   <g id="PathCollection_7">
    <defs>
     <path id="md130a6348b" d="M 0 2.738613 C 0.726289 2.738613 1.422928 2.450055 1.936492 1.936492 C 2.450055 1.422928 2.738613 0.726289 2.738613 0 C 2.738613 -0.726289 2.450055 -1.422928 1.936492 -1.936492 C 1.422928 -2.450055 0.726289 -2.738613 0 -2.738613 C -0.726289 -2.738613 -1.422928 -2.450055 -1.936492 -1.936492 C -2.450055 -1.422928 -2.738613 -0.726289 -2.738613 0 C -2.738613 0.726289 -2.450055 1.422928 -1.936492 1.936492 C -1.422928 2.450055 -0.726289 2.738613 0 2.738613 z
"/>
    </defs>
    <g clip-path="url(#p86b80bda49)">
     <use href="#md130a6348b" x="301.392" y="267.408" style="fill: #029e73"/>
    </g>
   </g>
   <g id="PathCollection_8">
    <defs>
     <path id="mf37e3693c1" d="M 0 2.738613 C 0.726289 2.738613 1.422928 2.450055 1.936492 1.936492 C 2.450055 1.422928 2.738613 0.726289 2.738613 0 C 2.738613 -0.726289 2.450055 -1.422928 1.936492 -1.936492 C 1.422928 -2.450055 0.726289 -2.738613 0 -2.738613 C -0.726289 -2.738613 -1.422928 -2.450055 -1.936492 -1.936492 C -2.450055 -1.422928 -2.738613 -0.726289 -2.738613 0 C -2.738613 0.726289 -2.450055 1.422928 -1.936492 1.936492 C -1.422928 2.450055 -0.726289 2.738613 0 2.738613 z
"/>
    </defs>
    <g clip-path="url(#p86b80bda49)">
     <use href="#mf37e3693c1" x="306" y="266.184" style="fill: #cc78bc"/>
    </g>
   </g>
  </g>
  <g id="legend_1">
   <g id="patch_6">
    <path d="M 242.074651 663.608 L 644.095589 663.608 Q 646.895589 663.608 646.895589 660.808 L 646.895589 622.10675 Q 646.895589 619.30675 644.095589 619.30675 L 242.074651 619.30675 Q 239.274651 619.30675 239.274651 622.10675 L 239.274651 660.808 Q 239.274651 663.608 242.074651 663.608 z
" style="fill: #fdfdfd; opacity: 0.8; stroke: #cccccc; stroke-width: 1.5; stroke-linejoin: miter"/>
   </g>
   <g id="line2d_67">
    <path d="M 244.874651 630.152375 L 258.874651 630.152375 L 272.874651 630.152375 " style="fill: none; stroke: #0173b2; stroke-width: 2.25; stroke-linecap: round"/>
   </g>
   <g id="text_28">
    <text style="font-size: 14px; font-family: 'Liberation Sans', sans-serif; text-anchor: start; fill: #262626" x="284.074651" y="635.052375" transform="translate(284.0747 635.0524) rotate(-0.000000) scale(1 1.020) translate(-284.0747 -635.0524)">Canary</text>
   </g>
   <g id="line2d_68">
    <path d="M 244.874651 650.203 L 258.874651 650.203 L 272.874651 650.203 " style="fill: none; stroke: #de8f05; stroke-width: 2.25; stroke-linecap: round"/>
   </g>
   <g id="text_29">
    <text style="font-size: 14px; font-family: 'Liberation Sans', sans-serif; text-anchor: start; fill: #262626" x="284.074651" y="655.103" transform="translate(284.0747 655.1030) rotate(-0.000000) scale(1 1.020) translate(-284.0747 -655.1030)">Robin</text>
   </g>
   <g id="line2d_69">
    <path d="M 357.202776 630.152375 L 371.202776 630.152375 L 385.202776 630.152375 " style="fill: none; stroke: #029e73; stroke-width: 2.25; stroke-linecap: round"/>
   </g>
   <g id="text_30">
    <text style="font-size: 14px; font-family: 'Liberation Sans', sans-serif; text-anchor: start; fill: #262626" x="396.402776" y="635.052375" transform="translate(396.4028 635.0524) rotate(-0.000000) scale(1 1.020) translate(-396.4028 -635.0524)">Shark</text>
   </g>
   <g id="line2d_70">
    <path d="M 357.202776 650.203 L 371.202776 650.203 L 385.202776 650.203 " style="fill: none; stroke: #d55e00; stroke-width: 2.25; stroke-linecap: round"/>
   </g>
   <g id="text_31">
    <text style="font-size: 14px; font-family: 'Liberation Sans', sans-serif; text-anchor: start; fill: #262626" x="396.402776" y="655.103" transform="translate(396.4028 655.1030) rotate(-0.000000) scale(1 1.020) translate(-396.4028 -655.1030)">Salmon</text>
   </g>
   <g id="line2d_71">
    <path d="M 471.869339 630.152375 L 485.869339 630.152375 L 499.869339 630.152375 " style="fill: none; stroke: #cc78bc; stroke-width: 2.25; stroke-linecap: round"/>
   </g>
   <g id="text_32">
    <text style="font-size: 14px; font-family: 'Liberation Sans', sans-serif; text-anchor: start; fill: #262626" x="511.069339" y="635.052375" transform="translate(511.0693 635.0524) rotate(-0.000000) scale(1 1.020) translate(-511.0693 -635.0524)">Oak</text>
   </g>
   <g id="line2d_72">
    <path d="M 471.869339 650.203 L 485.869339 650.203 L 499.869339 650.203 " style="fill: none; stroke: #ca9161; stroke-width: 2.25; stroke-linecap: round"/>
   </g>
   <g id="text_33">
    <text style="font-size: 14px; font-family: 'Liberation Sans', sans-serif; text-anchor: start; fill: #262626" x="511.069339" y="655.103" transform="translate(511.0693 655.1030) rotate(-0.000000) scale(1 1.020) translate(-511.0693 -655.1030)">Pine</text>
   </g>
   <g id="line2d_73">
    <path d="M 567.089026 630.152375 L 581.089026 630.152375 L 595.089026 630.152375 " style="fill: none; stroke: #fbafe4; stroke-width: 2.25; stroke-linecap: round"/>
   </g>
   <g id="text_34">
    <text style="font-size: 14px; font-family: 'Liberation Sans', sans-serif; text-anchor: start; fill: #262626" x="606.289026" y="635.052375" transform="translate(606.2890 635.0524) rotate(-0.000000) scale(1 1.020) translate(-606.2890 -635.0524)">Rose</text>
   </g>
   <g id="line2d_74">
    <path d="M 567.089026 650.203 L 581.089026 650.203 L 595.089026 650.203 " style="fill: none; stroke: #949494; stroke-width: 2.25; stroke-linecap: round"/>
   </g>
   <g id="text_35">
    <text style="font-size: 14px; font-family: 'Liberation Sans', sans-serif; text-anchor: start; fill: #262626" x="606.289026" y="655.103" transform="translate(606.2890 655.1030) rotate(-0.000000) scale(1 1.020) translate(-606.2890 -655.1030)">Daisy</text>
   </g>
  </g>
 </g>
 <defs>
  <clipPath id="pe4613dec09">
   <rect x="180" y="86.4" width="525.6" height="525.6"/>
  </clipPath>
  <clipPath id="p86b80bda49">
   <rect x="0" y="0" width="864" height="720"/>
  </clipPath>
 </defs>
</svg>

</body></html>
